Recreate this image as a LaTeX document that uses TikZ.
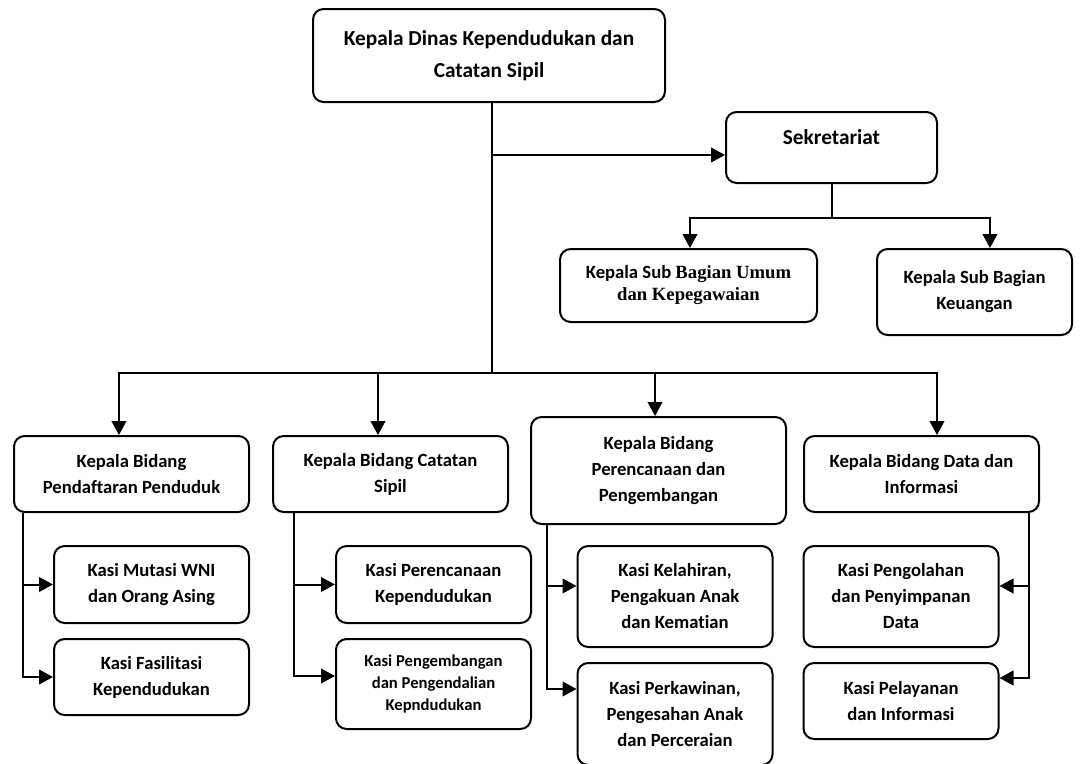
\documentclass[tikz,border=0pt]{standalone}
\usepackage{fontspec}
\setmainfont{Carlito}[Ligatures=NoCommon]
\newfontfamily\timesfont{Liberation Serif}
\usetikzlibrary{positioning, calc, arrows.meta}
\newdimen\pxu
\pxu=0.75pt

\begin{document}
\begin{tikzpicture}[
    x=0.75pt, y=-0.75pt,
    unit/.style={draw, line width=1.5pt, rounded corners=8pt, align=center, inner sep=0pt,
        font=\bfseries\fontsize{14pt}{19.5pt}\selectfont},
    head/.style={unit, font=\bfseries\fontsize{16pt}{24pt}\selectfont},
    kasi/.style={unit, minimum width=195*\pxu},
    link/.style={line width=1.5pt, -{Triangle[length=10.5pt, width=11pt]}},
    line/.style={line width=1.5pt}
]
\path[use as bounding box, fill=white] (0,0) rectangle (1090,764);

% Kepala Dinas dan Sekretariat
\node[head, minimum width=352*\pxu, minimum height=93*\pxu] (kadis) at (489,55.5) {Kepala Dinas Kependudukan dan\\Catatan Sipil};
\node[head, minimum width=211*\pxu, minimum height=71*\pxu] (sekretariat) at (831.5,147.5) {\raisebox{6.4pt}[0.75em][0.25em]{Sekretariat}};

% Sub Bagian
\node[unit, minimum width=257*\pxu, minimum height=73*\pxu, font=\bfseries\fontsize{14pt}{16.5pt}\selectfont] (subbag_umum) at (688.5,285.5) {Kepala Sub {\timesfont Bagian Umum}\\{\timesfont dan Kepegawaian}};
\node[unit, minimum width=195*\pxu, minimum height=86*\pxu] (subbag_keu) at (974.5,292) {Kepala Sub Bagian\\Keuangan};

% Bidang
\node[unit, minimum width=235*\pxu, minimum height=76*\pxu] (bidang1) at (131.5,474) {Kepala Bidang\\Pendaftaran Penduduk};
\node[unit, minimum width=235*\pxu, minimum height=76*\pxu] (bidang2) at (390.5,474) {Kepala Bidang Catatan\\Sipil};
\node[unit, minimum width=255*\pxu, minimum height=107*\pxu] (bidang3) at (658.5,470.5) {Kepala Bidang\\Perencanaan dan\\Pengembangan};
\node[unit, minimum width=235*\pxu, minimum height=76*\pxu] (bidang4) at (921.5,474) {Kepala Bidang Data dan\\Informasi};

% Kasi
\node[kasi, minimum height=77*\pxu] (kasi1_1) at (151.5,584.5) {Kasi Mutasi WNI\\dan Orang Asing};
\node[kasi, minimum height=76*\pxu, below=10.5pt of kasi1_1] (kasi1_2) {Kasi Fasilitasi\\Kependudukan};
\node[kasi, minimum height=77*\pxu] (kasi2_1) at (433.5,584.5) {Kasi Perencanaan\\Kependudukan};
\node[kasi, minimum height=90*\pxu, below=10.5pt of kasi2_1, font=\bfseries\fontsize{12.5pt}{16.5pt}\selectfont] (kasi2_2) {Kasi Pengembangan\\dan Pengendalian\\Kepndudukan};
\node[kasi, minimum height=101*\pxu] (kasi3_1) at (675,596.5) {Kasi Kelahiran,\\Pengakuan Anak\\dan Kematian};
\node[kasi, minimum height=102*\pxu, below=10.5pt of kasi3_1] (kasi3_2) {Kasi Perkawinan,\\Pengesahan Anak\\dan Perceraian};
\node[kasi, minimum height=101*\pxu] (kasi4_1) at (901,596.5) {Kasi Pengolahan\\dan Penyimpanan\\Data};
\node[kasi, minimum height=76*\pxu, below=10.5pt of kasi4_1] (kasi4_2) {Kasi Pelayanan\\dan Informasi};

% Garis utama
\coordinate (bus) at (492,373);
\coordinate (sek_in) at ([yshift=-5.6pt]sekretariat.west);
\draw[line] ([xshift=2.25pt]kadis.south) -- (bus);
\draw[link] (bus |- sek_in) -- (sek_in);

% Sekretariat ke Sub Bagian
\coordinate (sek_bus) at ([yshift=-25.5pt]sekretariat.south);
\draw[line] (sekretariat.south) -- (sek_bus);
\draw[link] (sek_bus) -| ([xshift=1.1pt]subbag_umum.north);
\draw[link] (sek_bus) -| ([xshift=11.6pt]subbag_keu.north);

% Ke Bidang
\draw[link] (bus) -| ([xshift=-9.4pt]bidang1.north);
\draw[link] (bus) -| ([xshift=-9.4pt]bidang2.north);
\draw[link] (bus) -| ([xshift=-2.6pt]bidang3.north);
\draw[link] (bus) -| ([xshift=11.6pt]bidang4.north);

% Ke Kasi
\draw[link] ([xshift=7.5pt]bidang1.south west) |- (kasi1_1.west);
\draw[link] ([xshift=7.5pt]bidang1.south west) |- (kasi1_2.west);
\draw[link] ([xshift=16.5pt]bidang2.south west) |- (kasi2_1.west);
\draw[link] ([xshift=16.5pt]bidang2.south west) |- ([yshift=6pt]kasi2_2.west);
\draw[link] ([xshift=12.75pt]bidang3.south west) |- ([yshift=7.9pt]kasi3_1.west);
\draw[link] ([xshift=12.75pt]bidang3.south west) |- ([yshift=18.75pt]kasi3_2.west);
\draw[link] ([xshift=-8.25pt]bidang4.south east) |- ([yshift=7.9pt]kasi4_1.east);
\draw[link] ([xshift=-8.25pt]bidang4.south east) |- ([yshift=17.25pt]kasi4_2.east);

\end{tikzpicture}
\end{document}
